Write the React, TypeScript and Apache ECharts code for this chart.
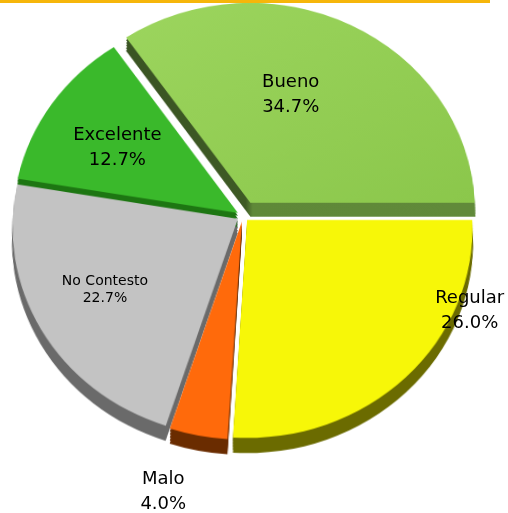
import React, { useEffect, useRef } from 'react';
import * as echarts from 'echarts';

// ---- data ----
const categories = ['Regular', 'Malo', 'No Contesto', 'Excelente', 'Bueno'];
const percentages = [26.0, 4.0, 22.7, 12.7, 34.7];

// ---- styling ----
const topColors: any[] = [
  '#f7f708',
  '#ff6a0b',
  '#c3c3c3',
  '#3ab92b',
  new echarts.graphic.LinearGradient(0, 0, 1, 1, [
    { offset: 0, color: '#9cd55e' },
    { offset: 1, color: '#8bc74b' },
  ]),
];
const sideColors: any[] = [
  '#6b6b00',
  '#6a2c00',
  '#6a6a6a',
  '#1d7612',
  new echarts.graphic.LinearGradient(0, 0, 1, 0, [
    { offset: 0, color: '#3a5423' },
    { offset: 0.35, color: '#3e5a25' },
    { offset: 0.37, color: '#5f8838' },
    { offset: 1, color: '#618a3a' },
  ]),
];
const explode = [6, 6, 6, 6, 16];
const labelFontSize = [18, 18, 14, 18, 18];
const labelLineHeight = [25, 25, 17, 25, 25];
const labelShift = [
  [128, -12],
  [-53, 133],
  [-15, -2],
  [-4, 7],
  [-19, 5],
];

const CX = 243;
const CY_LOCAL = 256;
const R = 225;
const DEPTH_STEPS = [3, 6, 9, 12, 15];
const FONT = "'DejaVu Sans', Verdana, sans-serif";

function sliceSeries(j: number, color: any, cy: number, z: number) {
  return {
    type: 'pie',
    center: [CX, cy],
    radius: R,
    startAngle: 0,
    clockwise: true,
    silent: true,
    z,
    selectedMode: 'multiple',
    selectedOffset: explode[j],
    avoidLabelOverlap: false,
    label: { show: false },
    labelLine: { show: false },
    emphasis: { disabled: true },
    itemStyle: { borderWidth: 0 },
    data: categories.map((name, i) => ({
      name,
      value: percentages[i],
      selected: true,
      itemStyle: {
        color: i === j ? color : 'rgba(0,0,0,0)',
        borderWidth: 0,
      },
      select: {
        itemStyle: {
          color: i === j ? color : 'rgba(0,0,0,0)',
          borderWidth: 0,
        },
      },
    })),
  };
}

export default function App() {
  const pieRef = useRef<HTMLDivElement>(null);
  const labelRef = useRef<HTMLDivElement>(null);

  useEffect(() => {
    const pie = echarts.init(pieRef.current!, null, {
      renderer: 'svg',
      width: 508,
      height: 600,
    });
    const series: any[] = [];
    categories.forEach((_, j) => {
      DEPTH_STEPS.forEach((d) => {
        series.push(sliceSeries(j, sideColors[j], CY_LOCAL + d, 1));
      });
    });
    categories.forEach((_, j) => {
      series.push(sliceSeries(j, topColors[j], CY_LOCAL, 2));
    });
    pie.setOption({ animation: false, series });

    const lab = echarts.init(labelRef.current!, null, {
      renderer: 'svg',
      width: 508,
      height: 513,
    });
    lab.setOption({
      animation: false,
      graphic: [
        {
          type: 'rect',
          shape: { x: 0, y: 0, width: 490, height: 3 },
          style: { fill: '#f6b60a' },
          silent: true,
        },
      ],
      series: [
        {
          type: 'pie',
          center: [243, 216],
          radius: 282,
          startAngle: 0,
          clockwise: true,
          silent: true,
          avoidLabelOverlap: false,
          itemStyle: { color: 'rgba(0,0,0,0)', borderWidth: 0 },
          labelLine: { show: false },
          label: {
            show: true,
            position: 'inside',
            color: '#000',
            fontFamily: FONT,
            fontSize: 18,
            lineHeight: 25,
            formatter: (p: any) => `${p.name}\n${Number(p.value).toFixed(1)}%`,
          },
          labelLayout: (p: any) => ({
            dx: labelShift[p.dataIndex][0],
            dy: labelShift[p.dataIndex][1],
          }),
          data: categories.map((name, i) => ({
            name,
            value: percentages[i],
            label: {
              fontSize: labelFontSize[i],
              lineHeight: labelLineHeight[i],
            },
          })),
        },
      ],
    });

    return () => {
      pie.dispose();
      lab.dispose();
    };
  }, []);

  return (
    <div
      style={{
        position: 'fixed',
        left: 0,
        top: 0,
        width: 508,
        height: 513,
        overflow: 'hidden',
        background: '#fff',
      }}
    >
      <div
        ref={pieRef}
        style={{
          position: 'absolute',
          left: 0,
          top: -40,
          width: 508,
          height: 600,
          transform: 'perspective(2100px) rotateX(21.8deg)',
          transformOrigin: `${CX}px ${CY_LOCAL}px`,
        }}
      />
      <div
        ref={labelRef}
        style={{
          position: 'absolute',
          left: 0,
          top: 0,
          width: 508,
          height: 513,
          pointerEvents: 'none',
        }}
      />
    </div>
  );
}
